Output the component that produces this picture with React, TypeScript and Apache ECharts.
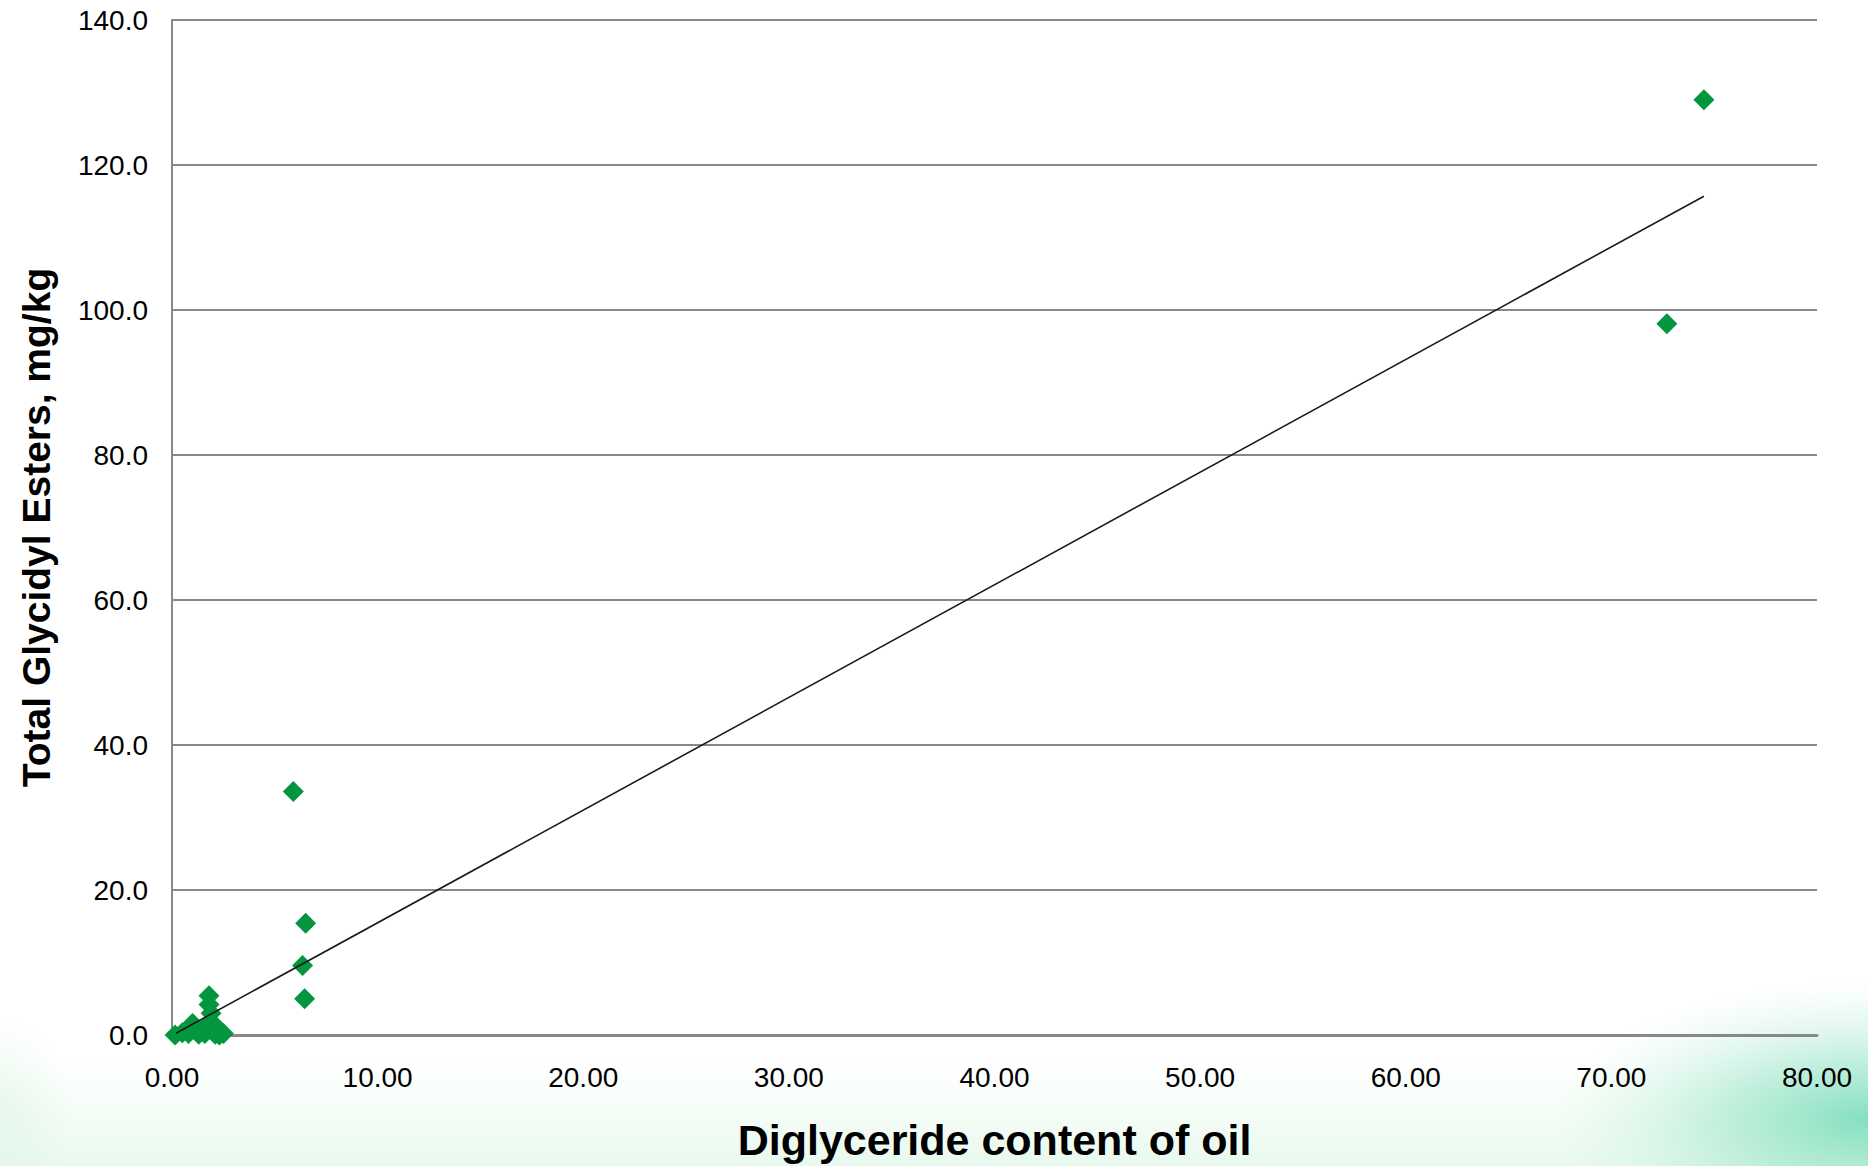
import React, { useEffect, useRef } from "react";
import * as echarts from "echarts";

// Diglyceride content of oil (x) vs Total Glycidyl Esters, mg/kg (y)
const diglyceride = [
  0.15, 0.5, 0.8, 1.0, 1.2, 1.3, 1.5, 1.6, 1.7, 1.8, 1.8, 1.9, 1.9, 2.0, 2.1, 2.2, 2.3, 2.5,
  5.9, 6.5, 6.35, 6.45, 72.7, 74.5,
];
const glycidylEsters = [
  0.0, 0.3, 0.2, 1.6, 0.5, 0.1, 0.8, 0.2, 1.2, 5.4, 4.2, 3.0, 1.8, 0.5, 0.1, 1.0, 0.0, 0.2,
  33.6, 15.4, 9.6, 5.0, 98.1, 129.0,
];
// Linear trend line endpoints
const trendX = [0.2, 74.5];
const trendY = [0.25, 115.7];

const xTicks = { min: 0, max: 80, interval: 10 };
const yTicks = { min: 0, max: 140, interval: 20 };

const xTitle = "Diglyceride content of oil";
const yTitle = "Total Glycidyl Esters, mg/kg";

export default function App() {
  const ref = useRef<HTMLDivElement>(null);
  useEffect(() => {
    if (!ref.current) return;
    const chart = echarts.init(ref.current, null, { renderer: "svg" });
    const font = "'Liberation Sans', Arial, sans-serif";
    const gray = "#888888";
    chart.setOption({
      animation: false,
      backgroundColor: "#ffffff",
      graphic: [
        {
          type: "rect",
          silent: true,
          z: -10,
          shape: { x: 0, y: 1060, width: 1868, height: 106 },
          style: {
            fill: new echarts.graphic.LinearGradient(0, 0, 0, 1, [
              { offset: 0, color: "rgba(215,245,222,0)" },
              { offset: 1, color: "rgba(205,242,215,0.45)" },
            ]),
          },
        },
        {
          type: "rect",
          silent: true,
          z: -9,
          shape: { x: 1450, y: 980, width: 418, height: 186 },
          style: {
            fill: new echarts.graphic.RadialGradient(1.0, 0.75, 0.75, [
              { offset: 0, color: "rgba(120,220,185,0.9)" },
              { offset: 0.45, color: "rgba(150,228,198,0.55)" },
              { offset: 1, color: "rgba(200,242,220,0)" },
            ]),
          },
        },
        {
          type: "rect",
          silent: true,
          z: -9,
          shape: { x: 0, y: 1000, width: 120, height: 166 },
          style: {
            fill: new echarts.graphic.RadialGradient(0, 0.7, 0.6, [
              { offset: 0, color: "rgba(220,244,228,0.6)" },
              { offset: 1, color: "rgba(220,244,228,0)" },
            ]),
          },
        },
      ],
      grid: { left: 172, right: 51, top: 20, bottom: 131, containLabel: false },
      xAxis: {
        type: "value",
        min: xTicks.min,
        max: xTicks.max,
        interval: xTicks.interval,
        name: xTitle,
        nameLocation: "middle",
        nameGap: 83,
        nameTextStyle: { fontSize: 43, fontWeight: "bold", color: "#000", fontFamily: font },
        axisLine: { show: true, lineStyle: { color: gray, width: 3 } },
        axisTick: { show: false },
        splitLine: { show: false },
        axisLabel: {
          margin: 28,
          fontSize: 28,
          color: "#000",
          fontFamily: font,
          formatter: (v: number) => v.toFixed(2),
        },
      },
      yAxis: {
        type: "value",
        min: yTicks.min,
        max: yTicks.max,
        interval: yTicks.interval,
        name: yTitle,
        nameLocation: "middle",
        nameGap: 116,
        nameTextStyle: { fontSize: 39, fontWeight: "bold", color: "#000", fontFamily: font },
        axisLine: { show: true, lineStyle: { color: gray, width: 2 } },
        axisTick: { show: false },
        splitLine: { show: true, lineStyle: { color: gray, width: 2 } },
        axisLabel: {
          margin: 24,
          fontSize: 28,
          color: "#000",
          fontFamily: font,
          formatter: (v: number) => v.toFixed(1),
        },
      },
      series: [
        {
          type: "scatter",
          symbol: "diamond",
          symbolSize: 21,
          itemStyle: { color: "#03963f", opacity: 1 },
          data: diglyceride.map((x, i) => [x, glycidylEsters[i]]),
          z: 2,
        },
        {
          type: "line",
          showSymbol: false,
          symbol: "none",
          lineStyle: { color: "#1a1a1a", width: 1.6 },
          data: trendX.map((x, i) => [x, trendY[i]]),
          z: 3,
        },
      ],
    });
    return () => chart.dispose();
  }, []);
  return (
    <div
      ref={ref}
      style={{ position: "fixed", left: 0, top: 0, width: 1868, height: 1166 }}
    />
  );
}
